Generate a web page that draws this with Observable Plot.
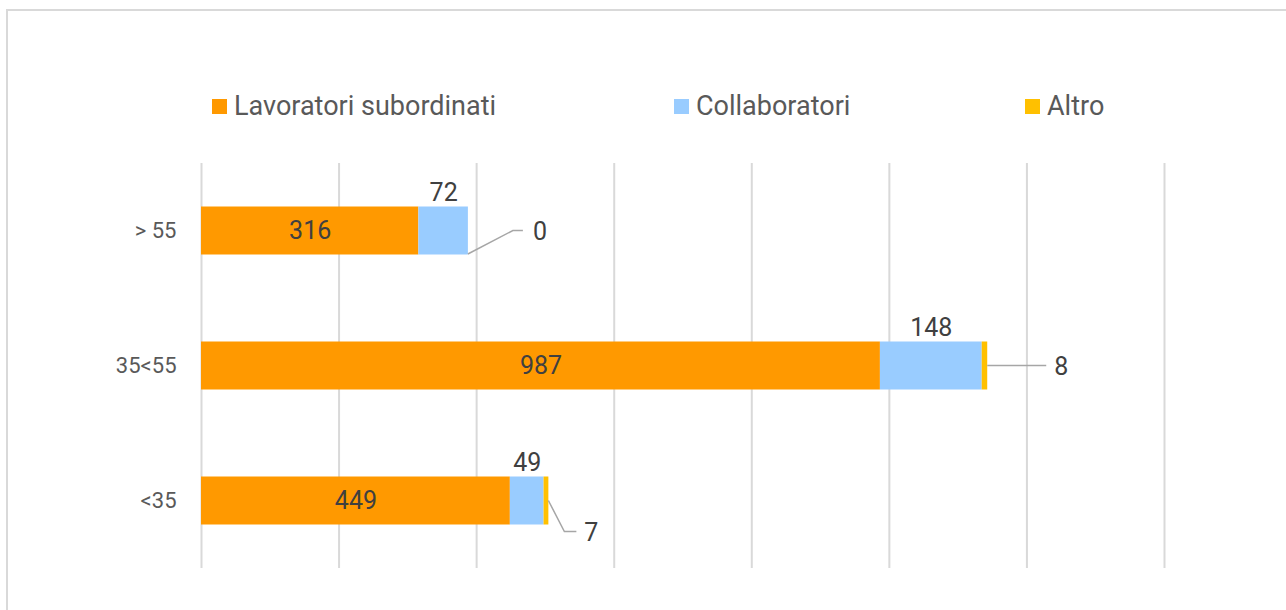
<!DOCTYPE html>
<html><head><meta charset="utf-8">
<script src="https://cdn.jsdelivr.net/npm/d3@7"></script>
<script src="https://cdn.jsdelivr.net/npm/@observablehq/plot@0.6"></script>
<style>
html,body{margin:0;padding:0;background:#fff;overflow:hidden;width:1286px;height:610px}
#frame{position:absolute;left:6px;top:9px;width:1400px;height:800px;border:2px solid #d9d9d9;pointer-events:none;box-sizing:border-box}
#legend{position:relative;height:140px;font-family:Roboto,sans-serif;font-size:27px;color:#595959}
.item{position:absolute;top:91px;height:30px;display:flex;align-items:center;white-space:nowrap}
.sw{width:15px;height:15px;margin-right:7px;flex:none}
#chart{position:relative}
</style></head><body>
<div id="legend"></div><div id="chart"></div><div id="frame"></div>
<script>
const ages = ["> 55", "35<55", "<35"];
const seriesNames = ["Lavoratori subordinati", "Collaboratori", "Altro"];
const lavoratori = [316, 987, 449];
const collaboratori = [72, 148, 49];
const altro = [0, 8, 7];
const xTicks = [0, 200, 400, 600, 800, 1000, 1200, 1400];
const colors = ["#ff9900", "#99ccff", "#ffc000"];

// label layout (pixel offsets of leader lines from the bar end)
const leaderLayout = [
  {path: [[0, 23.5], [45, 0], [55, 0]], label: [65, 1]},
  {path: [[0, 0], [59, 0]], label: [67, 1]},
  {path: [[0, 0], [16, 31], [28, 31]], label: [36, 32]}
];
const legendLeft = [212, 674, 1025];

const FONT = 'Roboto, sans-serif';

const rows = [];
ages.forEach((a, i) => {
  rows.push({age: a, series: seriesNames[0], value: lavoratori[i]});
  rows.push({age: a, series: seriesNames[1], value: collaboratori[i]});
  rows.push({age: a, series: seriesNames[2], value: altro[i]});
});
const totals = ages.map((a, i) => lavoratori[i] + collaboratori[i] + altro[i]);

// legend
const leg = document.getElementById("legend");
seriesNames.forEach((s, i) => {
  const it = document.createElement("div");
  it.className = "item";
  it.style.left = legendLeft[i] + "px";
  const sw = document.createElement("span");
  sw.className = "sw";
  sw.style.background = colors[i];
  const tx = document.createElement("span");
  tx.textContent = s;
  it.appendChild(sw); it.appendChild(tx);
  leg.appendChild(it);
});

function altroMark(index, scales, values, dimensions) {
  const x = scales.x, y = scales.y;
  const bw = typeof y.bandwidth === "function" ? y.bandwidth() : 0;
  const g = d3.create("svg:g");
  ages.forEach((a, i) => {
    const x0 = x(totals[i]);
    const y0 = y(a) + bw / 2;
    const L = leaderLayout[i];
    g.append("polyline")
      .attr("points", L.path.map(([dx, dy]) => (x0 + dx) + "," + (y0 + dy)).join(" "))
      .attr("fill", "none").attr("stroke", "#a6a6a6").attr("stroke-width", 1.5);
    g.append("text")
      .attr("x", x0 + L.label[0]).attr("y", y0 + L.label[1]).attr("dy", "0.35em")
      .attr("text-anchor", "start")
      .attr("font-family", FONT).attr("font-size", 25).attr("fill", "#404040")
      .text(altro[i]);
  });
  return g.node();
}

const chart = Plot.plot({
  width: 1286,
  height: 470,
  marginLeft: 201,
  marginRight: 122,
  marginTop: 23,
  marginBottom: 42,
  style: {fontFamily: FONT, background: "transparent"},
  x: {domain: [0, 1400], axis: null},
  y: {domain: ages, padding: 0, label: null, tickSize: 0, tickPadding: 25, fontSize: 22},
  color: {domain: seriesNames, range: colors},
  marks: [
    Plot.ruleX(xTicks, {stroke: "#d9d9d9", strokeWidth: 2}),
    Plot.barX(rows, {x: "value", y: "age", fill: "series", insetTop: 43.5, insetBottom: 43.5}),
    Plot.text(rows, Plot.stackX({x: "value", y: "age", z: "series",
      text: d => d.series === seriesNames[0] ? String(d.value) : null,
      fill: "#404040", fontSize: 25})),
    Plot.text(rows, Plot.stackX({x: "value", y: "age", z: "series",
      text: d => d.series === seriesNames[1] ? String(d.value) : null,
      fill: "#404040", fontSize: 25, dy: -38})),
    altroMark
  ]
});
chart.querySelectorAll('g[aria-label="y-axis tick label"]').forEach(el => {
  el.setAttribute("fill", "#595959");
  el.setAttribute("font-size", "22");
});
document.getElementById("chart").appendChild(chart);
</script>
</body></html>
